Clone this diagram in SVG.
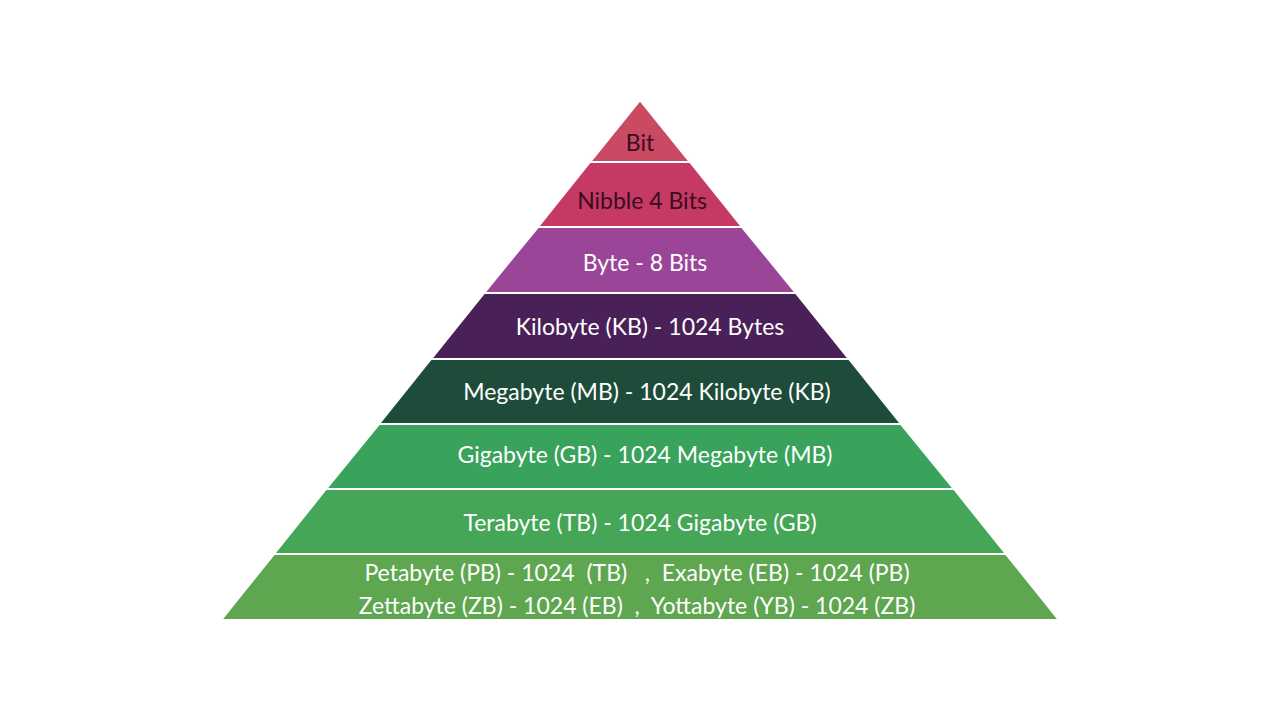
<svg xmlns="http://www.w3.org/2000/svg" width="1280" height="720" viewBox="0 0 1280 720">
<style>
.b{stroke:#fff;stroke-width:2}
text{font-family:"Lato","Open Sans",sans-serif;font-size:23px;text-anchor:middle;fill:#fff}
.d{fill:#3a0b22}
</style>
<rect width="1280" height="720" fill="#fff"/>
<g id="bit"><polygon class="b" fill="#c94a62" points="640,100 690,162 590,162"/><text class="d" x="640" y="151">Bit</text></g>
<g id="nibble"><polygon class="b" fill="#c43a63" points="590,162 690,162 742,227 538,227"/><text class="d" x="642" y="209">Nibble 4 Bits</text></g>
<g id="byte"><polygon class="b" fill="#9a4598" points="538,227 742,227 796,293 484,293"/><text x="645" y="271">Byte - 8 Bits</text></g>
<g id="kb"><polygon class="b" fill="#4a2058" points="484,293 796,293 849,359 431,359"/><text x="650" y="335">Kilobyte (KB) - 1024 Bytes</text></g>
<g id="mb"><polygon class="b" fill="#1e4c3a" points="431,359 849,359 901,424 379,424"/><text x="647" y="400">Megabyte (MB) - 1024 Kilobyte (KB)</text></g>
<g id="gb"><polygon class="b" fill="#39a25b" points="379,424 901,424 954,489 326,489"/><text x="645" y="463">Gigabyte (GB) - 1024 Megabyte (MB)</text></g>
<g id="tb"><polygon class="b" fill="#44a656" points="326,489 954,489 1006,554 274,554"/><text x="640" y="531">Terabyte (TB) - 1024 Gigabyte (GB)</text></g>
<g id="pb"><polygon class="b" fill="#5ea650" points="274,554 1006,554 1059,620 221,620"/>
<text x="637" y="581" xml:space="preserve">Petabyte (PB) - 1024  (TB)   ,  Exabyte (EB) - 1024 (PB)</text>
<text x="637" y="614" xml:space="preserve">Zettabyte (ZB) - 1024 (EB)  ,  Yottabyte (YB) - 1024 (ZB)</text></g>
</svg>
